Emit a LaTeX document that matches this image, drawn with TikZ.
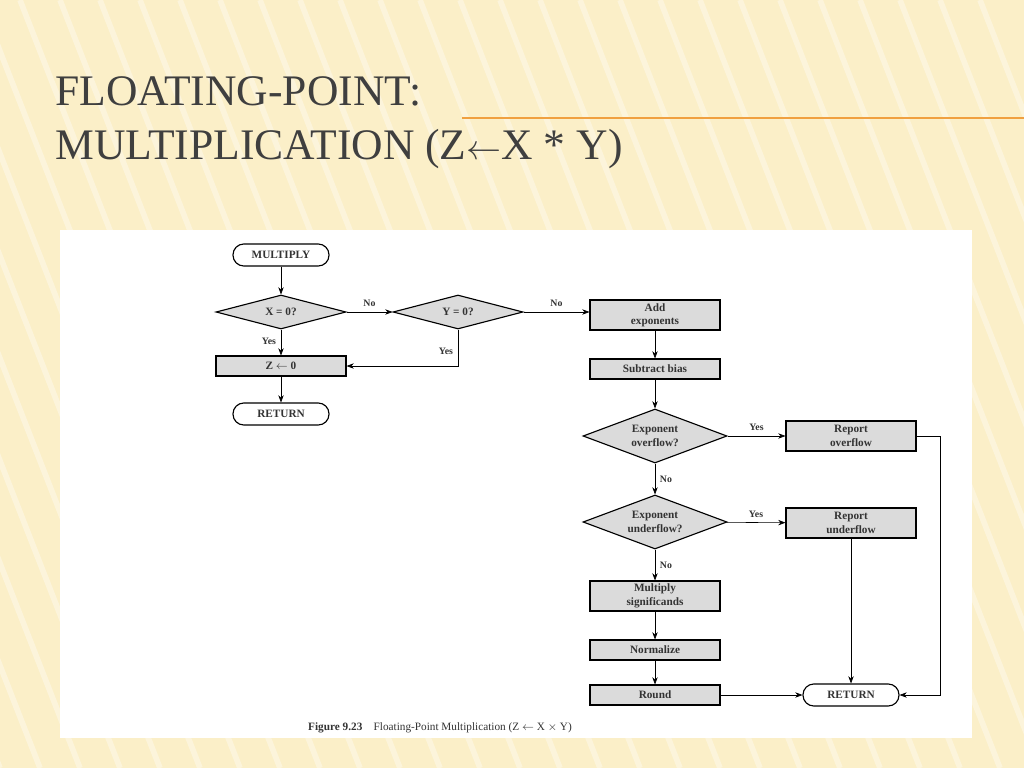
\documentclass[tikz,border=0pt]{standalone}
\usepackage{fontspec}
\setmainfont{Liberation Serif}
\usetikzlibrary{arrows.meta,shapes.geometric,positioning}
\definecolor{slidebg}{HTML}{FBEFC8}
\definecolor{titlegray}{HTML}{3F3F3F}
\definecolor{rulecol}{HTML}{F0A040}
\begin{document}
\begin{tikzpicture}[x=0.025cm, y=-0.025cm,
  >={Stealth[length=1.8mm]},
  every node/.style={font=\bfseries\footnotesize, text=black!80},
  proc/.style={draw, thick, fill=gray!28, minimum width=3.25cm, minimum height=0.5cm, align=center, inner sep=1pt},
  term/.style={draw, thick, rounded corners=0.27cm, minimum width=2.4cm, minimum height=0.55cm, inner sep=1pt},
  decide/.style={draw, thick, diamond, aspect=3.2, fill=gray!28, inner sep=0pt, align=center},
  lbl/.style={font=\bfseries\scriptsize}
]
  % slide
  \useasboundingbox (0,0) rectangle (1024,768);
  \fill[slidebg] (0,0) rectangle (1024,768);
  \begin{scope}
    \clip (0,0) rectangle (1024,768);
    \foreach \i in {-300,-260,...,1000}
      \draw[white, opacity=0.35, line width=4pt] (\i,0) -- (\i+300,768);
  \end{scope}
  \node[anchor=base west, font=\fontsize{31}{36}\selectfont, text=titlegray, inner sep=0] (t1) at (55,106) {FLOATING-POINT:};
  \node[anchor=base west, font=\fontsize{31}{36}\selectfont, text=titlegray, inner sep=0] (t2) at (55,160) {MULTIPLICATION (Z$\leftarrow$X * Y)};
  \draw[rulecol, line width=0.8pt] (462,118) -- (1024,118);
  \fill[white] (60,230) rectangle (972,738);

  % Nodes
  \node[term] (mult) at (281,255) {MULTIPLY};
  \node[decide, minimum width=3.25cm, minimum height=0.85cm] (xz) at (281,312) {X = 0?};
  \node[decide, minimum width=3.25cm, minimum height=0.85cm] (yz) at (458,312) {Y = 0?};
  \node[proc, minimum height=0.75cm] (add) at (655,315) {Add\\exponents};
  \node[proc] (zero) at (281,366) {Z $\leftarrow$ 0};
  \node[proc] (sub) at (655,369) {Subtract bias};
  \node[term] (ret1) at (281,414) {RETURN};
  \node[decide, minimum width=3.6cm, minimum height=1.35cm] (ovf) at (655,436) {Exponent\\overflow?};
  \node[proc, minimum height=0.75cm] (rovf) at (851,436) {Report\\overflow};
  \node[decide, minimum width=3.6cm, minimum height=1.35cm] (unf) at (655,522) {Exponent\\underflow?};
  \node[proc, minimum height=0.75cm] (runf) at (851,523) {Report\\underflow};
  \node[proc, minimum height=0.75cm] (sig) at (655,596) {Multiply\\significands};
  \node[proc] (norm) at (655,650) {Normalize};
  \node[proc] (rnd) at (655,695) {Round};
  \node[term] (ret2) at (851,695) {RETURN};
  \node[font=\footnotesize] (cap) at (440,728) {\textbf{Figure 9.23}\quad\mdseries Floating-Point Multiplication (Z $\leftarrow$ X $\times$ Y)};

  % Flows
  \draw[->] (mult) -- (xz);
  \draw[->] (xz) -- node[lbl, above] {No} (yz);
  \draw[->] (yz) -- node[lbl, above] {No} (add.west |- yz);
  \draw[->] (xz) -- node[lbl, left, pos=0.45] {Yes} (zero);
  \draw[->] (yz.south) |- node[lbl, left, pos=0.3] {Yes} (zero.east);
  \draw[->] (zero) -- (ret1);
  \draw[->] (add) -- (sub);
  \draw[->] (sub) -- (ovf);
  \draw[->] (ovf) -- node[lbl, above] {Yes} (rovf);
  \draw[->] (ovf) -- node[lbl, right] {No} (unf);
  \draw[->] (unf) -- node[lbl, above] {Yes} (runf);
  \draw[->] (unf) -- node[lbl, right] {No} (sig);
  \draw[->] (sig) -- (norm);
  \draw[->] (norm) -- (rnd);
  \draw[->] (rnd) -- (ret2);
  \draw[->] (runf) -- (ret2);
  \draw[->] (rovf.east) -| (940,695) -- (ret2.east);
\end{tikzpicture}
\end{document}
